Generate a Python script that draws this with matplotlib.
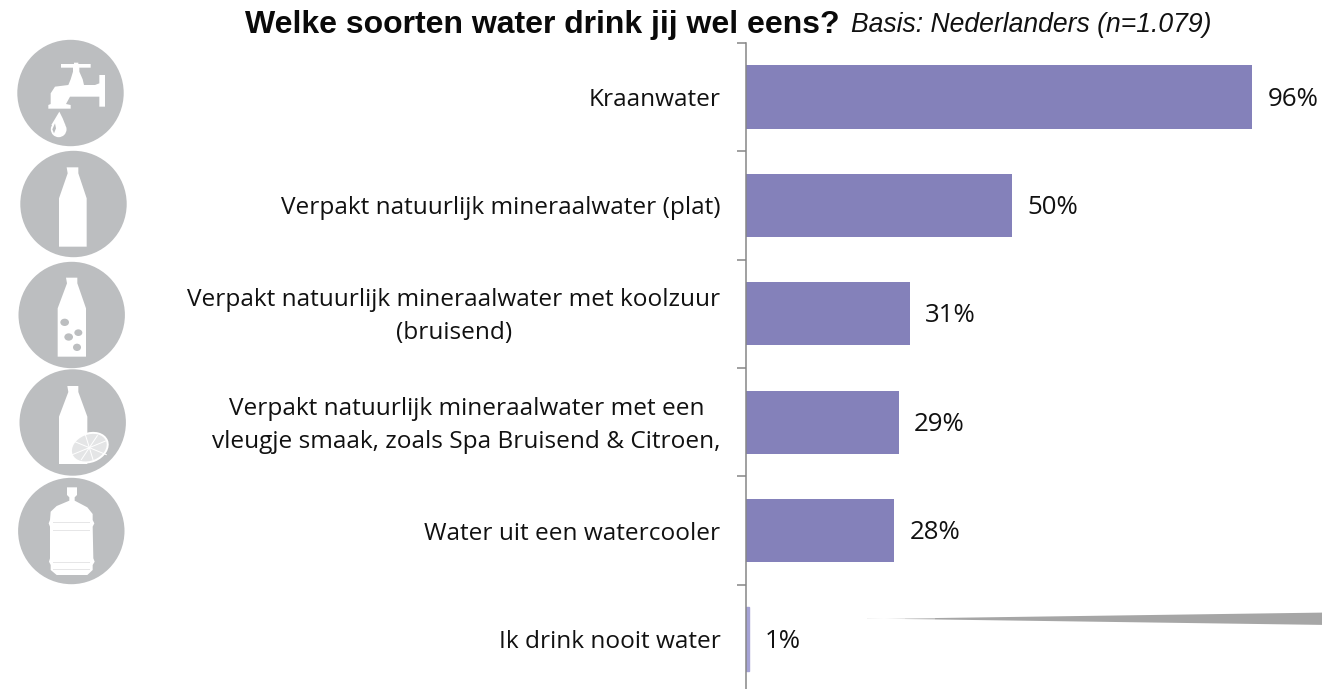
import matplotlib
matplotlib.use('Agg')
import matplotlib.pyplot as plt
from matplotlib.patches import Circle, Ellipse, Polygon
from matplotlib.transforms import ScaledTranslation

W, H = 1322, 689

categories = [
    'Kraanwater',
    'Verpakt natuurlijk mineraalwater (plat)',
    'Verpakt natuurlijk mineraalwater met koolzuur\n(bruisend)',
    'Verpakt natuurlijk mineraalwater met een\nvleugje smaak, zoals Spa Bruisend & Citroen,',
    'Water uit een watercooler',
    'Ik drink nooit water',
]
values = [96, 50.5, 31.1, 29, 28.2, 0.7]
value_labels = ['96%', '50%', '31%', '29%', '28%', '1%']

BAR = '#8481BA'
AXIS = '#868686'
ICON = '#BCBEC0'
FONT = 'Open Sans'
FS = 17.6

fig = plt.figure(figsize=(W / 100, H / 100), dpi=100)

# chart, y axis sits at x=745.5 and each category is about 108.4 px high
top, bottom = 42.8, 693.2
ax = fig.add_axes([745.5 / W, 1 - bottom / H, 1 - 745.5 / W, (bottom - top) / H])
y = list(range(len(categories)))
bars = ax.barh(y, values, height=0.582, color=BAR, edgecolor='none')
bars[-1].set_color('#A5A3D6')
ax.set_xlim(0, (W - 745.5) / 5.28)
ax.set_ylim(len(categories) - 0.5, -0.5)
ax.xaxis.set_visible(False)
for s in ['top', 'right', 'bottom']:
    ax.spines[s].set_visible(False)
ax.spines['left'].set_color(AXIS)
ax.spines['left'].set_linewidth(1.1)

ax.set_yticks([i - 0.5 for i in range(len(categories) + 1)])
ax.set_yticklabels([])
ax.tick_params(axis='y', which='major', length=6.5, width=1.1, color=AXIS)
ax.set_yticks(y, minor=True)
ax.set_yticklabels(categories, minor=True, fontsize=FS, family=FONT, color='#111111', linespacing=1.5)
ax.tick_params(axis='y', which='minor', length=0, pad=18)
for lab in ax.get_yticklabels(minor=True):
    lab.set_multialignment('center')
    if '\n' in lab.get_text():
        # two line labels sit a bit above the bar centre
        lab.set_transform(lab.get_transform() + ScaledTranslation(0, 4.5 / 100, fig.dpi_scale_trans))

texts = ax.bar_label(bars, labels=value_labels, padding=11, fontsize=18.6, family=FONT, color='#111111')
for t in texts:
    t.xyann = (t.xyann[0], -1.5)

fig.text(245 / W, 1 - 33 / H, 'Welke soorten water drink jij wel eens?', fontsize=23,
         fontweight='bold', family='Liberation Sans', va='baseline', color='#0A0A0A')
fig.text(851 / W, 1 - 32 / H, 'Basis: Nederlanders (n=1.079)', fontsize=19.1,
         style='italic', family='Liberation Sans', va='baseline', color='#111111')

# overlay in pixel coordinates for the icons and the grey wedge
ov = fig.add_axes([0, 0, 1, 1], facecolor='none')
ov.set_xlim(0, W)
ov.set_ylim(H, 0)
ov.axis('off')


def shape(pts, ox=0, oy=0, color='white'):
    ov.add_patch(Polygon([(ox + px / 3, oy + py / 3) for px, py in pts], closed=True,
                         facecolor=color, edgecolor='none'))


for cx, cy in [(70.5, 93), (73.5, 204), (71.7, 315), (72.7, 422.5), (71.3, 531)]:
    ov.add_patch(Circle((cx, cy), 53.2, facecolor=ICON, edgecolor='none'))

# tap
shape([(183, 102), (222, 102), (222, 98), (235, 98), (235, 102), (272, 102), (272, 113), (238, 113),
       (238, 125), (248, 148), (252, 165), (285, 165), (298, 160), (298, 135), (315, 135), (315, 230),
       (298, 230), (298, 200), (210, 200), (198, 222), (212, 225), (212, 236), (145, 236), (145, 225),
       (152, 222), (152, 190), (165, 170), (205, 165), (212, 148), (219, 125), (219, 113), (183, 113)],
      0, 30)
shape([(178, 245), (188, 265), (196, 285), (154, 285), (166, 265)], 0, 30)
ov.add_patch(Circle((176 / 3, 30 + 298 / 3), 23 / 3 + 0.2, facecolor='white', edgecolor='none'))
shape([(165, 280), (157, 298), (162, 310), (168, 295)], 0, 30, ICON)

# plain bottle
bottle = [(200, 412), (235, 412), (235, 430), (260, 505), (260, 650), (177, 650), (177, 505), (203, 430)]
shape(bottle, 0, 30)

# sparkling bottle
bottle3 = [(198, 53), (232, 53), (232, 70), (258, 145), (258, 290), (173, 290), (173, 145), (201, 70)]
shape(bottle3, 0, 260)
for bx, by, bw, bh in [(194, 187, 26, 22), (206, 231, 26, 22), (235, 218, 24, 20), (231, 262, 24, 22)]:
    ov.add_patch(Ellipse((bx / 3, 260 + by / 3), bw / 3, bh / 3, facecolor=ICON, edgecolor='none'))

# bottle with lemon slice
bottle4 = [(202, 378), (235, 378), (235, 396), (262, 470), (262, 612), (177, 612), (177, 470), (205, 396)]
shape(bottle4, 0, 260)
lx, ly = 268 / 3, 260 + 563 / 3
ov.add_patch(Ellipse((lx, ly), 40, 30, angle=-22, facecolor='white', edgecolor='none'))
ov.add_patch(Ellipse((lx, ly), 36, 26, angle=-22, facecolor='#E4E5E6', edgecolor='none'))
for dx, dy in [(17, -7), (17, 7), (4, 13), (8, -12)]:
    ov.plot([lx - dx, lx + dx], [ly - dy, ly + dy], color='white', lw=0.7)

# water cooler bottle
shape([(201, 682), (231, 682), (231, 705), (224, 712), (224, 722), (262, 742), (278, 762), (278, 780),
       (283, 790), (278, 800), (280, 895), (284, 905), (278, 915), (278, 930), (262, 945), (170, 945),
       (152, 930), (152, 915), (147, 905), (150, 895), (150, 800), (146, 790), (150, 780), (152, 755),
       (170, 738), (208, 722), (208, 712), (201, 705)], 0, 260)
for rib in [787, 810, 905, 928]:
    shape([(160, rib), (270, rib), (270, rib + 3), (160, rib + 3)], 0, 260, '#E6E6E7')

# wedge at the bottom right, fades out towards its tip
for x0, x1, c in [(867, 885, '#E8E8E8'), (885, 905, '#D2D2D2'), (905, 935, '#BDBDBD'), (935, 1322, '#A6A6A6')]:
    w0 = (x0 - 867) / (1322 - 867) * 6.4
    w1 = (x1 - 867) / (1322 - 867) * 6.4
    ov.add_patch(Polygon([(x0, 619 - w0), (x1, 619 - w1), (x1, 618.5 + w1), (x0, 618.5 + w0)],
                         closed=True, facecolor=c, edgecolor='none'))

fig.savefig('out.png', dpi=100)
